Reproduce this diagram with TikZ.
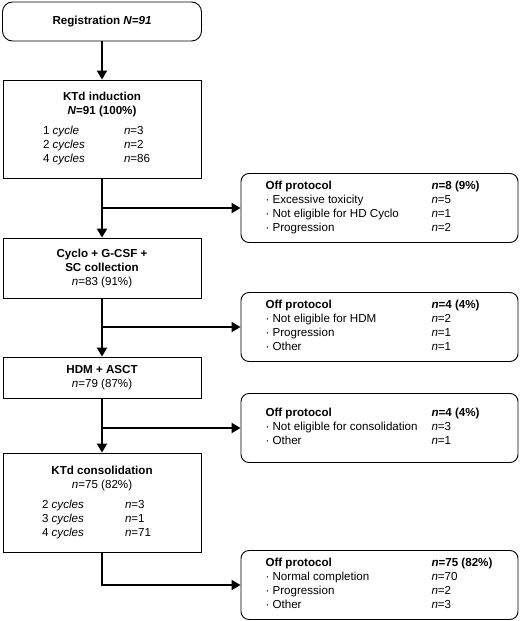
\documentclass[tikz,border=0pt]{standalone}
\usepackage{fontspec}
\setmainfont{Liberation Sans}
\usetikzlibrary{arrows.meta}

\begin{document}
\begin{tikzpicture}[x=1pt, y=-1pt,
  box/.style = {draw, line width=0.9pt, inner sep=0pt, minimum width=198pt,
                align=center, font=\fontsize{11.6}{14}\selectfont},
  offbox/.style = {box, rounded corners=8pt, minimum width=277pt,
                   minimum height=69pt},
  arr/.style = {-{Triangle[length=9pt,width=10pt]}, line width=2pt}
]
  \useasboundingbox (0,0) rectangle (520,621);

  % Main column
  \node[box, rounded corners=10pt, minimum width=199pt, minimum height=39pt]
      (reg) at (102,21.5) {\textbf{Registration \textit{N=91}}};

  \node[box, minimum height=98pt] (ind) at (102,129) {%
    \begin{tabular}{@{}p{69pt}p{37pt}@{}}
      \multicolumn{2}{@{}c@{}}{\textbf{KTd induction}}\\
      \multicolumn{2}{@{}c@{}}{\textbf{\textit{N}=91 (100\%)}}\\[6pt]
      1 \textit{cycle}  & \textit{n}=3\\
      2 \textit{cycles} & \textit{n}=2\\
      4 \textit{cycles} & \textit{n}=86
    \end{tabular}};

  \node[box, minimum height=60pt] (cyc) at (102,268)
      {\textbf{Cyclo + G-CSF +}\\ \textbf{SC collection}\\ \textit{n}=83 (91\%)};

  \node[box, minimum height=41pt] (hdm) at (102,377.5)
      {\textbf{HDM + ASCT}\\ \textit{n}=79 (87\%)};

  \node[box, minimum height=99pt] (cons) at (102,502.5) {%
    \begin{tabular}{@{}p{71pt}p{37pt}@{}}
      \multicolumn{2}{@{}c@{}}{\textbf{KTd consolidation}}\\
      \multicolumn{2}{@{}c@{}}{\textit{n}=75 (82\%)}\\[6pt]
      2 \textit{cycles} & \textit{n}=3\\
      3 \textit{cycles} & \textit{n}=1\\
      4 \textit{cycles} & \textit{n}=71
    \end{tabular}};

  % Off protocol boxes
  \node[offbox] (off1) at (379.5,208) {%
    \begin{tabular}{@{}p{154pt}p{62pt}@{}}
      \textbf{Off protocol}         & \textbf{\textit{n}=8 (9\%)}\\
      · Excessive toxicity          & \textit{n}=5\\
      · Not eligible for HD Cyclo   & \textit{n}=1\\
      · Progression                 & \textit{n}=2
    \end{tabular}};

  \node[offbox] (off2) at (379.5,327) {%
    \begin{tabular}{@{}p{154pt}p{62pt}@{}}
      \textbf{Off protocol}         & \textbf{\textit{n}=4 (4\%)}\\
      · Not eligible for HDM        & \textit{n}=2\\
      · Progression                 & \textit{n}=1\\
      · Other                       & \textit{n}=1
    \end{tabular}};

  \node[offbox] (off3) at (379.5,428) {%
    \begin{tabular}{@{}p{154pt}p{62pt}@{}}
      \textbf{Off protocol}               & \textbf{\textit{n}=4 (4\%)}\\
      · Not eligible for consolidation    & \textit{n}=3\\
      · Other                             & \textit{n}=1
    \end{tabular}};

  \node[offbox] (off4) at (379.5,585) {%
    \begin{tabular}{@{}p{154pt}p{62pt}@{}}
      \textbf{Off protocol}         & \textbf{\textit{n}=75 (82\%)}\\
      · Normal completion           & \textit{n}=70\\
      · Progression                 & \textit{n}=2\\
      · Other                       & \textit{n}=3
    \end{tabular}};

  % Branch points
  \coordinate (b1) at (ind.south |- off1.west);
  \coordinate (b2) at (cyc.south |- off2.west);
  \coordinate (b3) at (hdm.south |- off3.west);

  % Main flow
  \draw[arr] (reg.south) -- (ind.north);
  \draw[arr] (ind.south) -- (cyc.north);
  \draw[arr] (cyc.south) -- (hdm.north);
  \draw[arr] (hdm.south) -- (cons.north);

  % Off protocol arrows
  \draw[arr] (b1) -- (off1.west);
  \draw[arr] (b2) -- (off2.west);
  \draw[arr] (b3) -- (off3.west);
  \draw[arr] (cons.south) |- (off4.west);

\end{tikzpicture}
\end{document}
